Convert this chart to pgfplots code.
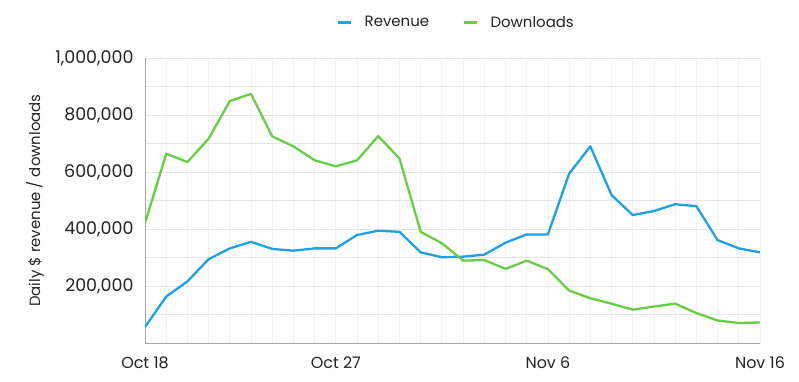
\documentclass[border=0pt]{standalone}
\usepackage{fontspec}
\setmainfont{Poppins}
\usepackage{pgfplots}
\pgfplotsset{compat=1.18}
\definecolor{rev}{RGB}{30,160,226}
\definecolor{dl}{RGB}{104,204,70}
\definecolor{gridc}{RGB}{228,228,234}
\definecolor{vgridc}{RGB}{243,243,247}
\definecolor{txt}{RGB}{35,35,35}
\begin{document}
\begin{tikzpicture}
\useasboundingbox (0,0) rectangle (799bp,382bp);
\begin{axis}[
  at={(145bp,39bp)}, anchor=south west,
  scale only axis, width=615bp, height=285bp,
  xmin=0, xmax=29, ymin=0, ymax=1000000,
  axis x line*=bottom, axis y line*=left,
  axis line style={-, draw=black!35, line width=0.8bp},
  xtick={0,9,19,29},
  xticklabels={Oct 18,Oct 27,Nov 6,Nov 16},
  minor xtick={0,...,29},
  ytick={200000,400000,600000,800000,1000000},
  minor ytick={100000,300000,500000,700000,900000},
  scaled y ticks=false,
  /pgf/number format/.cd, fixed, 1000 sep={,}, assume math mode=true,
  /pgfplots/.cd,
  tick style={draw=none},
  ymajorgrids, yminorgrids, xmajorgrids, xminorgrids,
  major y grid style={draw=gridc, line width=0.8bp},
  minor y grid style={draw=gridc, line width=0.8bp},
  major x grid style={draw=vgridc, line width=0.8bp},
  minor x grid style={draw=vgridc, line width=0.8bp},
  yticklabel style={font=\fontsize{17.5}{20}\selectfont, text=txt, xshift=-8bp},
  xticklabel style={font=\fontsize{16}{19}\selectfont, text=txt, yshift=-10bp},
  ylabel={Daily \$ revenue / downloads},
  every axis y label/.style={at={(axis description cs:-0.1789,0.5)}, rotate=90, anchor=center},
  ylabel style={font=\fontsize{15}{18}\selectfont, text=txt},
  legend columns=2,
  legend style={at={(0.5,1)}, anchor=south, yshift=25bp, xshift=4bp, draw=none, fill=none,
    font=\fontsize{15}{18}\selectfont, text=txt,
    /tikz/every even column/.append style={column sep=32bp},
    /tikz/every odd column/.append style={column sep=10bp}},
  legend image code/.code={\draw[#1, line width=2.5bp] (0bp,0bp) -- (13bp,0bp);},
]
\addplot[rev, line width=2.3bp, line join=round] coordinates {
(0,56000) (1,163000) (2,216000) (3,294000) (4,332000) (5,355000) (6,330000) (7,324000) (8,332000) (9,332000)
(10,379000) (11,394000) (12,390000) (13,318000) (14,301000) (15,303000) (16,310000) (17,352000) (18,381000) (19,381000)
(20,594000) (21,690000) (22,519000) (23,449000) (24,463000) (25,487000) (26,480000) (27,361000) (28,332000) (29,318000)
};
\addlegendentry{Revenue}
\addplot[dl, line width=2.3bp, line join=round] coordinates {
(0,420000) (1,664000) (2,635000) (3,717000) (4,849000) (5,874000) (6,725000) (7,690000) (8,641000) (9,620000)
(10,641000) (11,726000) (12,647000) (13,390000) (14,350000) (15,289000) (16,291000) (17,260000) (18,289000) (19,259000)
(20,184000) (21,157000) (22,138000) (23,117000) (24,128000) (25,138000) (26,105000) (27,79000) (28,70000) (29,72000)
};
\addlegendentry{Downloads}
\end{axis}
\end{tikzpicture}
\end{document}
